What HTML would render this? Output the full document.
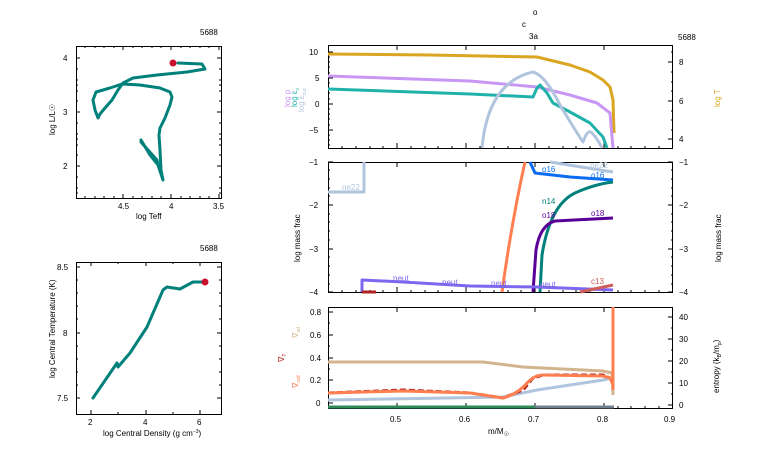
<!DOCTYPE html>
<html><head><meta charset="utf-8"><style>
html,body{margin:0;padding:0;background:#fff;}
svg{display:block;font-family:"Liberation Sans",sans-serif;}
text{font-size:8px;fill:#000;}
.t{font-size:9px;}
.s{font-size:7px;}
</style></head><body>
<svg width="766" height="460" viewBox="0 0 766 460" xmlns="http://www.w3.org/2000/svg">
<g fill="none" stroke="#000" stroke-width="1">
<rect x="76.5" y="46.5" width="145" height="152"/>
<path d="M76,58h4M221,58h-4M76,112h4M221,112h-4M76,166h4M221,166h-4M76,85h2M221,85h-2M76,139h2M221,139h-2M76,193h2M221,193h-2M76,69h2M76,80h2M76,91h2M76,101h2M76,123h2M76,134h2M76,145h2M76,155h2M76,177h2M76,188h2M221,69h-2M221,80h-2M221,91h-2M221,101h-2M221,123h-2M221,134h-2M221,145h-2M221,155h-2M221,177h-2M221,188h-2"/>
<path d="M123,198v-4M171,198v-4M219,198v-4M123,46v4M171,46v4M219,46v4M85,198v-2M95,198v-2M104,198v-2M114,198v-2M133,198v-2M142,198v-2M152,198v-2M161,198v-2M181,198v-2M190,198v-2M200,198v-2M209,198v-2M85,46v2M95,46v2M104,46v2M114,46v2M133,46v2M142,46v2M152,46v2M161,46v2M181,46v2M190,46v2M200,46v2M209,46v2"/>
<rect x="76.5" y="262.5" width="145" height="152"/>
<path d="M76,267h4M221,267h-4M76,333h4M221,333h-4M76,398h4M221,398h-4M76,280h2M76,293h2M76,306h2M76,319h2M76,346h2M76,359h2M76,372h2M76,385h2M221,280h-2M221,293h-2M221,306h-2M221,319h-2M221,346h-2M221,359h-2M221,372h-2M221,385h-2"/>
<path d="M91,414v-4M146,414v-4M200,414v-4M91,262v4M146,262v4M200,262v4M118,414v-2M173,414v-2M118,262v2M173,262v2"/>
<rect x="328.5" y="45.5" width="344" height="103"/>
<rect x="328.5" y="162.5" width="344" height="130"/>
<rect x="328.5" y="307.5" width="344" height="101"/>
</g>
<g stroke="#000" stroke-width="1">
<path d="M328,52h5M328,78h5M328,104h5M328,130h5M328,57h2M328,62h2M328,67h2M328,73h2M328,83h2M328,88h2M328,93h2M328,99h2M328,109h2M328,114h2M328,119h2M328,125h2M328,135h2M328,140h2M328,145h2"/>
<path d="M673,62h-5M673,101h-5M673,139h-5M673,52h-2M673,72h-2M673,82h-2M673,91h-2M673,111h-2M673,120h-2M673,130h-2"/>
<path d="M328,162h5M328,205h5M328,249h5M328,292h5M673,162h-5M673,205h-5M673,249h-5M673,292h-5"/>
<path d="M328,170h2M328,179h2M328,188h2M328,196h2M328,214h2M328,222h2M328,231h2M328,240h2M328,257h2M328,266h2M328,275h2M328,284h2M673,170h-2M673,179h-2M673,188h-2M673,196h-2M673,214h-2M673,222h-2M673,231h-2M673,240h-2M673,257h-2M673,266h-2M673,275h-2M673,284h-2"/>
<path d="M328,312h5M328,335h5M328,358h5M328,380h5M328,403h5M328,323h2M328,346h2M328,369h2M328,392h2"/>
<path d="M673,317h-5M673,339h-5M673,361h-5M673,383h-5M673,405h-5M673,328h-2M673,350h-2M673,372h-2M673,394h-2"/>
<path d="M397,408v-5M466,408v-5M535,408v-5M604,408v-5M397,292v-5M466,292v-5M535,292v-5M604,292v-5M397,148v-5M466,148v-5M535,148v-5M604,148v-5M397,45v5M466,45v5M535,45v5M604,45v5M397,162v5M466,162v5M535,162v5M604,162v5M397,307v5M466,307v5M535,307v5M604,307v5"/>
<path d="M342,408v-2M356,408v-2M370,408v-2M383,408v-2M411,408v-2M425,408v-2M438,408v-2M452,408v-2M480,408v-2M494,408v-2M508,408v-2M521,408v-2M549,408v-2M563,408v-2M576,408v-2M590,408v-2M618,408v-2M631,408v-2M645,408v-2M659,408v-2"/>
<path d="M342,148v-2M356,148v-2M370,148v-2M383,148v-2M411,148v-2M425,148v-2M438,148v-2M452,148v-2M480,148v-2M494,148v-2M508,148v-2M521,148v-2M549,148v-2M563,148v-2M576,148v-2M590,148v-2M618,148v-2M631,148v-2M645,148v-2M659,148v-2"/>
<path d="M342,292v-2M356,292v-2M370,292v-2M383,292v-2M411,292v-2M425,292v-2M438,292v-2M452,292v-2M480,292v-2M494,292v-2M508,292v-2M521,292v-2M549,292v-2M563,292v-2M576,292v-2M590,292v-2M618,292v-2M631,292v-2M645,292v-2M659,292v-2"/>
</g>

<g fill="none" stroke="#00807a" stroke-width="3" stroke-linejoin="round" stroke-linecap="round">
<path d="M141,140 L150,155 L158,165 L163,180 L161,170 L160,150 L159,135 L160,128 L165,118 L170,105 L172,97 L170,92 L160,88 L140,85 L122,84 L110,88 L96,92 L93,100 L95,110 L98,118 L100,114 L105,108 L112,100 L118,90 L123,83 L133,78 L157,75 L187,72 L205,69 L202,64 L178,63"/>
<path d="M141,142 L148,150 L157,160 L158,165"/>
<path d="M93,398 L117,363 L118,367 L130,353 L147,327 L163,290 L167,287 L180,289 L193,282 L205,282"/>
</g>
<circle cx="173" cy="63" r="3.5" fill="#c8102e"/>
<circle cx="205" cy="282" r="3.5" fill="#c8102e"/>

<g fill="none" stroke-width="3" stroke-linejoin="round">
<path stroke="#daa520" d="M328,54 L430,55 L537,57 L570,65 L590,72 L603,80 L610,87 L613,100 L614,133"/>
<path stroke="#c896f5" d="M328,76 L470,81 L537,87 L570,95 L597,103 L610,113 L613,148"/>
<path stroke="#20b2aa" d="M328,89 L470,94 L533,97 L537,88 L540,85 L547,93 L553,103 L570,112 L590,123 L603,137 L607,148"/>
<path stroke="#b0c4de" d="M482,148 Q488,82 533,72 Q545,75 560,105 Q575,130 583,142 Q588,128 592,133 Q597,138 602,148"/>
</g>
<g fill="none" stroke-width="3" stroke-linejoin="round">
<path stroke="#b0c4de" d="M328,192 L364,192 L364,162 M550,162 L613,172"/>
<path stroke="#ff7f50" d="M502,292 Q512,220 525,162"/>
<path stroke="#0a6cf0" d="M530,162 L535,173 L570,177 L613,180"/>
<path stroke="#00807a" d="M540,292 L542,255 Q550,205 575,193 Q595,184 613,182"/>
<path stroke="#5a0096" d="M533,292 L536,250 Q540,225 555,221 L613,218"/>
<path stroke="#7b68ee" d="M362,292 L362,280 L403,282 L470,286 L537,287 L613,290"/>
<path stroke="#cd5c5c" d="M580,292 L613,285"/>
<path stroke="#b22222" d="M362,292 L376,292"/>
</g>
<g class="s">
<text x="342" y="190" style="fill:#b0c4de">ne22</text>
<text x="590" y="168" style="fill:#b0c4de">ne22</text>
<text x="542" y="172" style="fill:#0a6cf0">o16</text>
<text x="591" y="178" style="fill:#0a6cf0">o16</text>
<text x="542" y="204" style="fill:#00807a">n14</text>
<text x="542" y="218" style="fill:#5a0096">o18</text>
<text x="591" y="216" style="fill:#5a0096">o18</text>
<text x="393" y="281" style="fill:#7b68ee">neut</text>
<text x="442" y="285" style="fill:#7b68ee">neut</text>
<text x="491" y="286" style="fill:#7b68ee">neut</text>
<text x="540" y="287" style="fill:#7b68ee">neut</text>
<text x="591" y="284" style="fill:#cd5c5c">c13</text>
</g>
<g fill="none" stroke-width="3" stroke-linejoin="round">
<path stroke="#d2b48c" d="M328,362 L483,362 L523,367 L603,371 L612,373 L613,395"/>
<path stroke="#b0c4de" d="M328,400 L503,397 L537,390 L603,380 L612,378"/>
<path stroke="#b22222" d="M328,393 L403,390 L470,393 L503,398 L523,390 L533,378 L543,375 L603,375 L610,378" stroke-dasharray="6,3"/>
<path stroke="#ff7f50" d="M328,393 L403,391 L470,393 L503,398 Q518,394 528,382 Q535,375 543,375 L603,376 L610,378 L613,385 M613,307 L613,390"/>
<path stroke="#2e8b57" d="M328,407 L535,407"/>
<path stroke="#708090" d="M535,407 L614,407"/>
</g>

<g class="s">
<text x="200" y="35">5688</text>
<text x="200" y="251">5688</text>
<text x="678" y="40">5688</text>
<text x="533" y="15">o</text>
<text x="522" y="27">c</text>
<text x="529" y="39">3a</text>
</g>
<g class="t">
<text x="118" y="209">4.5</text><text x="169" y="209">4</text><text x="213" y="209">3.5</text>
<text x="63" y="61">4</text><text x="63" y="115">3</text><text x="63" y="169">2</text>
<text x="88" y="425">2</text><text x="143" y="425">4</text><text x="197" y="425">6</text>
<text x="57" y="270">8.5</text><text x="63" y="336">8</text><text x="57" y="401">7.5</text>
<text x="309" y="55">10</text><text x="315" y="81">5</text><text x="315" y="107">0</text><text x="309" y="133">−5</text>
<text x="679" y="65">8</text><text x="679" y="104">6</text><text x="679" y="142">4</text>
<text x="309" y="165">−1</text><text x="309" y="208">−2</text><text x="309" y="252">−3</text><text x="309" y="295">−4</text>
<text x="679" y="165">−1</text><text x="679" y="208">−2</text><text x="679" y="252">−3</text><text x="679" y="295">−4</text>
<text x="310" y="315">0.8</text><text x="310" y="338">0.6</text><text x="310" y="361">0.4</text><text x="310" y="383">0.2</text><text x="316" y="406">0</text>
<text x="679" y="320">40</text><text x="679" y="342">30</text><text x="679" y="364">20</text><text x="679" y="386">10</text><text x="679" y="408">0</text>
<text x="390" y="422">0.5</text><text x="459" y="422">0.6</text><text x="528" y="422">0.7</text><text x="597" y="422">0.8</text><text x="664" y="422">0.9</text>
<text x="488" y="434">m/M<tspan font-size="6" dy="2">☉</tspan></text>
</g>
<g class="s">
<text x="136" y="219">log Teff</text>
<text x="103" y="436">log Central Density (g cm<tspan dy="-3" font-size="5">−3</tspan><tspan dy="3">)</tspan></text>
<text transform="translate(55,135) rotate(-90)">log L/L☉</text>
<text transform="translate(55,378) rotate(-90)">log Central Temperature (K)</text>
<text transform="translate(290,107) rotate(-90)" style="fill:#c896f5">log ρ</text>
<text transform="translate(297,107) rotate(-90)" style="fill:#20b2aa">log ε<tspan font-size="5" dy="2">ν</tspan></text>
<text transform="translate(304,112) rotate(-90)" style="fill:#b0c4de">log ε<tspan font-size="5" dy="2">nuc</tspan></text>
<text transform="translate(720,107) rotate(-90)" style="fill:#daa520">log T</text>
<text transform="translate(300,262) rotate(-90)">log mass frac</text>
<text transform="translate(721,262) rotate(-90)">log mass frac</text>
<text transform="translate(298,338) rotate(-90)" style="fill:#d2b48c">∇<tspan font-size="5" dy="2">ad</tspan></text>
<text transform="translate(284,362) rotate(-90)" style="fill:#b22222">∇<tspan font-size="5" dy="2">T</tspan></text>
<text transform="translate(298,388) rotate(-90)" style="fill:#ff7f50">∇<tspan font-size="5" dy="2">rad</tspan></text>
<text transform="translate(719,393) rotate(-90)">entropy (k<tspan font-size="5" dy="2">B</tspan><tspan dy="-2">/m</tspan><tspan font-size="5" dy="2">p</tspan><tspan dy="-2">)</tspan></text>
</g>
</svg>
</body></html>
